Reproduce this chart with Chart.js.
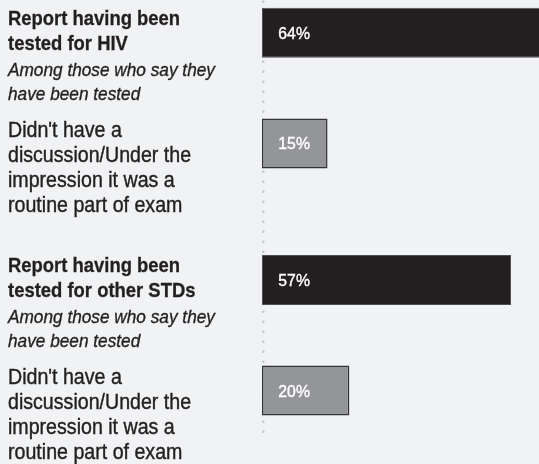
<!DOCTYPE html>
<html>
<head>
<meta charset="utf-8">
<script src="https://cdn.jsdelivr.net/npm/chart.js@4"></script>
<style>
  html, body { margin: 0; padding: 0; background: #f1f2f4; }
  #wrap { width: 539px; height: 464px; position: relative; }
</style>
</head>
<body>
<div id="wrap"><canvas id="c" width="539" height="464"></canvas></div>
<script>
// ---- data ----
const categories = ["Report having been tested for HIV", "Report having been tested for other STDs"];
const seriesNames = ["Report having been tested", "Didn't have a discussion/Under the impression it was a routine part of exam"];
const testedValues = [64, 57];
const noDiscussionValues = [15, 20];
const headingLines = [["Report having been", "tested for HIV"], ["Report having been", "tested for other STDs"]];
const noteLines = ["Among those who say they", "have been tested"];
const subLines = ["Didn't have a", "discussion/Under the", "impression it was a", "routine part of exam"];

const TEXT = '#231f20';
const FONT = '"Liberation Sans", Arial, sans-serif';

function drawScaled(ctx, text, x, y, font, sx, weight) {
  ctx.save();
  ctx.font = font;
  ctx.translate(x, y);
  ctx.scale(sx, 1);
  ctx.fillText(text, 0, 0);
  if (weight) {
    ctx.lineWidth = weight;
    ctx.strokeStyle = ctx.fillStyle;
    ctx.strokeText(text, 0, 0);
  }
  ctx.restore();
}

const dotLine = {
  id: 'dotLine',
  beforeDatasetsDraw(chart) {
    const ctx = chart.ctx;
    const x = chart.scales.x.getPixelForValue(0) + 1.3;
    ctx.save();
    ctx.fillStyle = '#c6c7c9';
    for (let y = 1.7; y <= 437; y += 10) {
      ctx.beginPath();
      ctx.arc(x, y, 1.3, 0, Math.PI * 2);
      ctx.fill();
    }
    ctx.restore();
  }
};

const labelsPlugin = {
  id: 'labelsPlugin',
  afterDatasetsDraw(chart) {
    const ctx = chart.ctx;
    const yS = chart.scales.y;
    ctx.save();
    ctx.textBaseline = 'alphabetic';
    ctx.textAlign = 'left';
    ctx.fillStyle = TEXT;
    categories.forEach((c, i) => {
      const cy = yS.getPixelForValue(i);
      const head = headingLines[i];
      drawScaled(ctx, head[0], 8, cy - 63, 'bold 21px ' + FONT, 0.878, 0.3);
      drawScaled(ctx, head[1], 8, cy - 63 + 24.5, 'bold 21px ' + FONT, 0.878, 0.3);
      drawScaled(ctx, noteLines[0], 8, cy - 63 + 51, 'italic 19px ' + FONT, 0.907, 0.35);
      drawScaled(ctx, noteLines[1], 8, cy - 63 + 74.5, 'italic 19px ' + FONT, 0.907, 0.35);
      subLines.forEach((l, k) => {
        drawScaled(ctx, l, 8, cy + 49 + k * 25, '21.5px ' + FONT, 0.912, 0.4);
      });
    });
    // value labels inside bars
    ctx.fillStyle = '#ffffff';
    chart.data.datasets.forEach((ds, di) => {
      const meta = chart.getDatasetMeta(di);
      meta.data.forEach((bar, i) => {
        const v = ds.data[i].x;
        drawScaled(ctx, v + '%', bar.base + 16.3, bar.y + 6, '17px ' + FONT, 0.93, 0.4);
      });
    });
    ctx.restore();
  }
};

new Chart(document.getElementById('c'), {
  type: 'bar',
  data: {
    datasets: [
      {
        label: seriesNames[0],
        data: testedValues.map((v, i) => ({ x: v, y: i })),
        backgroundColor: '#231f20',
        borderColor: '#4e4e50',
        borderWidth: 1,
        borderSkipped: false,
        categoryPercentage: 0.895,
        barPercentage: 0.452
      },
      {
        label: seriesNames[1],
        data: noDiscussionValues.map((v, i) => ({ x: v, y: i })),
        backgroundColor: '#939598',
        borderColor: '#333335',
        borderWidth: 1.5,
        borderSkipped: false,
        categoryPercentage: 0.895,
        barPercentage: 0.452
      }
    ]
  },
  options: {
    indexAxis: 'y',
    responsive: false,
    animation: false,
    layout: { padding: { left: 262, right: 0, top: 0, bottom: 0 } },
    plugins: { legend: { display: false }, tooltip: { enabled: false } },
    scales: {
      x: { type: 'linear', min: 0, max: 63.4, display: false },
      y: {
        type: 'linear', reverse: true, offset: false, min: -0.3565, max: 1.5209, display: false,
        afterBuildTicks(scale) { scale.ticks = categories.map((c, i) => ({ value: i })); }
      }
    }
  },
  plugins: [dotLine, labelsPlugin]
});
</script>
</body>
</html>
